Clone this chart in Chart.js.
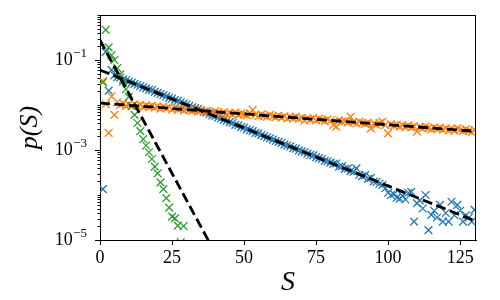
<!DOCTYPE html>
<html>
<head>
<meta charset="utf-8">
<script src="https://cdn.jsdelivr.net/npm/chart.js@4.4.0/dist/chart.umd.min.js"></script>
<style>
  html, body { margin: 0; padding: 0; background: #fff; }
  #wrap { width: 500px; height: 300px; }
</style>
</head>
<body>
<div id="wrap"><canvas id="pdist" width="500" height="300"></canvas></div>
<script>
// avalanche size S
const sizes = [
  1,2,3,4,5,6,7,8,9,10, 11,12,13,14,15,16,17,18,19,20,
  21,22,23,24,25,26,27,28,29,30, 31,32,33,34,35,36,37,38,39,40,
  41,42,43,44,45,46,47,48,49,50, 51,52,53,54,55,56,57,58,59,60,
  61,62,63,64,65,66,67,68,69,70, 71,72,73,74,75,76,77,78,79,80,
  81,82,83,84,85,86,87,88,89,90, 91,92,93,94,95,96,97,98,99,100,
  101,102,103,104,105,106,107,108,109,110, 111,112,113,114,115,116,117,118,119,120,
  121,122,123,124,125,126,127,128,129,130
];

// log10 p(S)
const blueLogP = [
  -3.87,-0.82,-1.68,-1.22,-1.34,-1.38,-1.39,-1.43,-1.45,-1.48,
  -1.50,-1.53,-1.55,-1.58,-1.61,-1.63,-1.66,-1.67,-1.71,-1.73,
  -1.76,-1.78,-1.81,-1.84,-1.86,-1.89,-1.91,-1.94,-1.97,-1.99,
  -2.02,-2.05,-2.07,-2.09,-2.12,-2.15,-2.17,-2.20,-2.23,-2.24,
  -2.28,-2.30,-2.33,-2.35,-2.38,-2.40,-2.44,-2.45,-2.49,-2.50,
  -2.54,-2.56,-2.58,-2.62,-2.63,-2.67,-2.69,-2.72,-2.74,-2.77,
  -2.80,-2.82,-2.84,-2.88,-2.90,-2.92,-2.96,-2.97,-3.01,-3.03,
  -3.05,-3.08,-3.11,-3.12,-3.16,-3.18,-3.20,-3.24,-3.25,-3.28,
  -3.31,-3.30,-3.37,-3.36,-3.42,-3.41,-3.47,-3.48,-3.41,-3.55,
  -3.58,-3.56,-3.64,-3.62,-3.70,-3.71,-3.75,-3.78,-3.85,-3.95,
  -4.00,-3.98,-4.06,-4.08,-4.02,-4.10,-3.95,-3.93,-4.59,-4.18,
  -4.12,-4.30,-4.00,-4.78,-4.44,-4.35,-4.50,-4.22,-4.59,-4.40,
  -4.59,-4.15,-4.45,-4.22,-4.35,-4.59,-4.45,-4.50,-4.59,-4.33
];
const orangeLogP = [
  -1.47,-1.98,-2.62,-1.81,-2.22,-1.94,-2.00,-1.97,-2.02,-1.99,
  -2.03,-1.98,-2.02,-2.00,-2.05,-2.01,-2.04,-2.02,-2.06,-2.03,
  -2.08,-2.04,-2.07,-2.05,-2.11,-2.06,-2.09,-2.08,-2.12,-2.09,
  -2.11,-2.13,-2.10,-2.14,-2.12,-2.16,-2.13,-2.15,-2.18,-2.14,
  -2.17,-2.19,-2.16,-2.20,-2.18,-2.21,-2.17,-2.22,-2.19,-2.21,
  -2.23,-2.18,-2.11,-2.22,-2.25,-2.21,-2.24,-2.26,-2.22,-2.25,
  -2.27,-2.24,-2.28,-2.25,-2.30,-2.27,-2.29,-2.26,-2.31,-2.28,
  -2.35,-2.30,-2.32,-2.29,-2.34,-2.31,-2.33,-2.36,-2.32,-2.35,
  -2.44,-2.48,-2.34,-2.37,-2.36,-2.39,-2.26,-2.38,-2.41,-2.37,
  -2.40,-2.42,-2.39,-2.52,-2.41,-2.44,-2.40,-2.37,-2.45,-2.63,
  -2.43,-2.46,-2.44,-2.48,-2.45,-2.49,-2.46,-2.50,-2.47,-2.59,
  -2.49,-2.52,-2.48,-2.51,-2.54,-2.50,-2.53,-2.51,-2.55,-2.52,
  -2.56,-2.53,-2.57,-2.52,-2.55,-2.58,-2.54,-2.57,-2.60,-2.56
];
// green run only goes to S = 29
const greenLogP = [
  -1.50,-0.33,-0.72,-0.89,-1.00,-1.18,-1.32,-1.48,-1.65,-1.82,
  -2.02,-2.22,-2.40,-2.58,-2.76,-2.90,-3.05,-3.20,-3.37,-3.52,
  -3.72,-3.87,-4.07,-4.28,-4.48,-4.52,-4.68,-5.05,-4.69
];

// exponential fits (dashed), end points
const fitS = [0, 130.5];
const blueFitP = [6.0e-2, 2.6e-5];
const orangeFitP = [1.1e-2, 2.6e-3];
const greenFitS = [0, 40];
const greenFitP = [2.75e-1, 5.1e-6];

const xTicks = [0, 25, 50, 75, 100, 125];
const yLabelled = [1e-1, 1e-3, 1e-5];
const yLabelExp = ['\u22121', '\u22123', '\u22125'];

const serif = '"Liberation Serif", "DejaVu Serif", serif';

function pts(xs, logs) {
  return logs.map((v, i) => ({ x: xs[i], y: Math.pow(10, v) }));
}
function fitPts(xs, ps) {
  return ps.map((p, i) => ({ x: xs[i], y: p }));
}

// log ticks with long/short marks, 10^k labels and the top/right frame
const logTicks = {
  id: 'logTicks',
  afterDraw(chart) {
    const { ctx, chartArea: a } = chart;
    const y = chart.scales.y;
    ctx.save();
    ctx.strokeStyle = '#000';
    ctx.lineWidth = 1;
    ctx.beginPath();
    ctx.moveTo(a.left, a.top + 0.5); ctx.lineTo(a.right, a.top + 0.5);
    ctx.moveTo(a.right - 0.5, a.top); ctx.lineTo(a.right - 0.5, a.bottom);
    for (let k = -5; k <= 0; k++) {
      for (let m = 1; m <= 9; m++) {
        const v = m * Math.pow(10, k);
        if (v > 1.0001) break;
        const py = Math.round(y.getPixelForValue(v)) + 0.5;
        const major = m === 1 && yLabelled.some(t => Math.abs(Math.log10(t) - k) < 1e-9);
        const len = major ? 5 : 2.5;
        ctx.moveTo(a.left - len, py); ctx.lineTo(a.left, py);
      }
    }
    ctx.stroke();

    ctx.fillStyle = '#000';
    ctx.textBaseline = 'alphabetic';
    const xr = a.left - 13;
    yLabelled.forEach((v, i) => {
      const py = y.getPixelForValue(v);
      ctx.font = '13px ' + serif;
      const ew = ctx.measureText(yLabelExp[i]).width;
      ctx.textAlign = 'left';
      ctx.fillText(yLabelExp[i], xr - ew, py - 3.2);
      ctx.font = '18px ' + serif;
      ctx.textAlign = 'right';
      ctx.fillText('10', xr - ew - 0.5, py + 4.5);
    });
    ctx.restore();
  }
};

const markerBase = {
  type: 'scatter',
  showLine: false,
  pointStyle: 'crossRot',
  pointRadius: 5.5,
  pointHoverRadius: 5.5,
  pointBorderWidth: 1.3
};
const fitBase = {
  type: 'line',
  showLine: true,
  borderColor: '#000',
  borderWidth: 2.8,
  borderDash: [10, 4.5],
  pointRadius: 0,
  fill: false,
  tension: 0,
  order: 0
};

new Chart(document.getElementById('pdist'), {
  type: 'scatter',
  data: {
    datasets: [
      Object.assign({}, markerBase, { label: 'blue', data: pts(sizes, blueLogP), borderColor: '#1f77b4', backgroundColor: '#1f77b4', order: 3 }),
      Object.assign({}, markerBase, { label: 'orange', data: pts(sizes, orangeLogP), borderColor: '#ff7f0e', backgroundColor: '#ff7f0e', order: 2 }),
      Object.assign({}, markerBase, { label: 'green', data: pts(sizes, greenLogP), borderColor: '#2ca02c', backgroundColor: '#2ca02c', order: 1 }),
      Object.assign({}, fitBase, { label: 'fit blue', data: fitPts(fitS, blueFitP) }),
      Object.assign({}, fitBase, { label: 'fit orange', data: fitPts(fitS, orangeFitP) }),
      Object.assign({}, fitBase, { label: 'fit green', data: fitPts(greenFitS, greenFitP) })
    ]
  },
  options: {
    responsive: false,
    devicePixelRatio: 1,
    animation: false,
    layout: { padding: { top: 15, right: 24, left: 0, bottom: 0 } },
    plugins: { legend: { display: false }, tooltip: { enabled: false } },
    scales: {
      x: {
        type: 'linear',
        min: 0,
        max: 130.5,
        afterBuildTicks: s => { s.ticks = xTicks.map(v => ({ value: v })); },
        afterFit: s => { s.height = 60; },
        grid: { display: true, drawOnChartArea: false, tickLength: 5, tickColor: '#000', tickWidth: 1 },
        border: { display: true, color: '#000', width: 1 },
        ticks: { color: '#000', font: { family: serif, size: 18 }, padding: 2, maxRotation: 0 },
        title: { display: true, text: 'S', color: '#000', font: { family: serif, size: 28, style: 'italic' }, padding: { top: 0, bottom: 1 } }
      },
      y: {
        type: 'logarithmic',
        min: 1e-5,
        max: 1,
        afterFit: s => { s.width = 100; },
        grid: { display: false },
        border: { display: true, color: '#000', width: 1 },
        ticks: { display: false },
        title: { display: true, text: 'p(S)', color: '#000', font: { family: serif, size: 26, style: 'italic' }, padding: { top: 15, bottom: 0 } }
      }
    }
  },
  plugins: [logTicks]
});
</script>
</body>
</html>
